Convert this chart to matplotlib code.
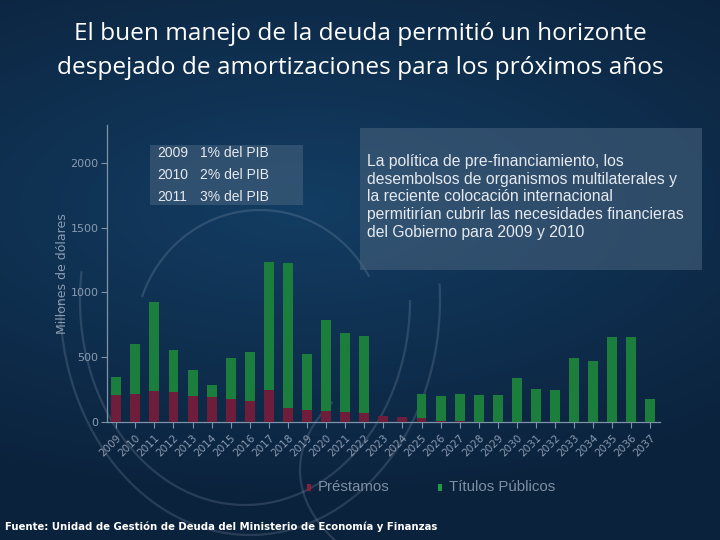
import numpy as np
import matplotlib
matplotlib.use("Agg")
import matplotlib.pyplot as plt
from matplotlib.patches import Arc, Rectangle

years = [str(y) for y in range(2009, 2038)]
prestamos = [210, 216, 242, 234, 203, 190, 178, 165, 247, 106, 93, 87, 80, 67,
             46, 36, 28, 10, 5, 0, 0, 0, 0, 0, 0, 0, 0, 0, 0]
titulos = [140, 386, 682, 324, 198, 93, 319, 373, 986, 1122, 430, 701, 605, 597,
           0, 0, 186, 191, 209, 208, 208, 337, 252, 245, 497, 471, 659, 659, 175]
yticks = [0, 500, 1000, 1500, 2000]

title = ("El buen manejo de la deuda permitió un horizonte\n"
         "despejado de amortizaciones para los próximos años")
box_left = [("2009", "1% del PIB"), ("2010", "2% del PIB"), ("2011", "3% del PIB")]
box_right = ("La política de pre-financiamiento, los\n"
             "desembolsos de organismos multilaterales y\n"
             "la reciente colocación internacional\n"
             "permitirían cubrir las necesidades financieras\n"
             "del Gobierno para 2009 y 2010")
footer = "Fuente: Unidad de Gestión de Deuda del Ministerio de Economía y Finanzas"

W, H = 720, 540
fig = plt.figure(figsize=(7.2, 5.4), dpi=100)

# background gradient
bg = fig.add_axes([0, 0, 1, 1])
yy, xx = np.mgrid[0:1:270j, 0:1:360j]
top = np.array([0x0b, 0x22, 0x3c]) / 255
mid = np.array([0x13, 0x3d, 0x63]) / 255
d = np.clip(np.sqrt(((xx - 0.42) / 0.9) ** 2 + ((yy - 0.62) / 0.55) ** 2), 0, 1)
img = mid[None, None, :] * (1 - d[..., None]) + top[None, None, :] * d[..., None]
bg.imshow(img, extent=[0, W, 0, H], origin="upper", aspect="auto", zorder=0)
bg.set_xlim(0, W)
bg.set_ylim(H, 0)
bg.axis("off")
arc_kw = dict(color="#c8d4e0", alpha=0.16, lw=1.6, zorder=1)
bg.add_patch(Arc((245, 300), 330, 410, theta1=0, theta2=190, **arc_kw))
bg.add_patch(Arc((250, 300), 380, 470, theta1=355, theta2=540, **arc_kw))
bg.add_patch(Arc((260, 340), 250, 260, theta1=200, theta2=330, **arc_kw))
bg.add_patch(Arc((520, 470), 440, 260, theta1=90, theta2=200, **arc_kw))

# title
fig.text(0.5, 1 - 51 / H, title, ha="center", va="center", color="white",
         fontsize=17.6, family="Open Sans", linespacing=1.55)

# main axes
x0, x1 = 106.7, 660
y0, y1 = 422, 125
ax = fig.add_axes([x0 / W, 1 - y0 / H, (x1 - x0) / W, (y0 - y1) / H])
ax.patch.set_alpha(0)
x = np.arange(len(years))
ax.bar(x, prestamos, width=0.52, color="#6e1e3a", zorder=3, label="Préstamos")
ax.bar(x, titulos, width=0.52, bottom=prestamos, color="#1b7e3d", zorder=3,
       label="Títulos Públicos")
ax.set_xlim(-0.5, len(years) - 0.5)
ax.set_ylim(0, 2293)
ax.set_yticks(yticks)
ax.set_yticklabels([str(v) for v in yticks])
ax.set_xticks(x)
ax.set_xticklabels(years, rotation=45, ha="right", rotation_mode="anchor")
lab_c = "#8a9bb0"
ax.tick_params(axis="both", colors="#7f93a8", labelcolor=lab_c, labelsize=7.5,
               length=4, width=0.8)
ax.tick_params(axis="y", pad=2, labelsize=8)
for s in ["top", "right"]:
    ax.spines[s].set_visible(False)
for s in ["left", "bottom"]:
    ax.spines[s].set_color("#7f93a8")
    ax.spines[s].set_linewidth(0.9)
ax.set_ylabel("Millones de dólares", color=lab_c, fontsize=9, labelpad=1)

# left box
fig.patches.append(Rectangle((150 / W, 1 - 205 / H), 153 / W, 60 / H,
                             transform=fig.transFigure, facecolor="#4a6580",
                             alpha=0.55, edgecolor="none", zorder=5))
for i, (yr, txt) in enumerate(box_left):
    yp = 1 - (153 + 22 * i) / H
    fig.text(157 / W, yp, yr, color="#e6eaf0", fontsize=10,
             family="Liberation Sans", va="center", zorder=6)
    fig.text(200 / W, yp, txt, color="#e6eaf0", fontsize=10,
             family="Liberation Sans", va="center", zorder=6)

# right box
fig.patches.append(Rectangle((360 / W, 1 - 270 / H), 342 / W, 142 / H,
                             transform=fig.transFigure, facecolor="#4a6580",
                             alpha=0.55, edgecolor="none", zorder=5))
fig.text(367 / W, 1 - 154 / H, box_right, color="#e6eaf0", fontsize=11.3,
         family="Liberation Sans", va="top", ha="left", linespacing=1.22, zorder=6)

# legend
leg_y = 1 - 487 / H
fig.patches.append(Rectangle((307 / W, leg_y - 3.5 / H), 4 / W, 7 / H,
                             transform=fig.transFigure, facecolor="#8a1f36",
                             edgecolor="none"))
fig.text(318 / W, leg_y, "Préstamos", color="#7d8fa3", fontsize=10.8,
         family="Liberation Sans", va="center")
fig.patches.append(Rectangle((438 / W, leg_y - 3.5 / H), 4 / W, 7 / H,
                             transform=fig.transFigure, facecolor="#1f9a45",
                             edgecolor="none"))
fig.text(449 / W, leg_y, "Títulos Públicos", color="#7d8fa3", fontsize=10.8,
         family="Liberation Sans", va="center")

# footer
fig.text(5 / W, 1 - 527 / H, footer, color="white", fontsize=8.1,
         family="DejaVu Sans", fontstretch="condensed", weight="bold", va="center")

fig.savefig("out.png", dpi=100)
